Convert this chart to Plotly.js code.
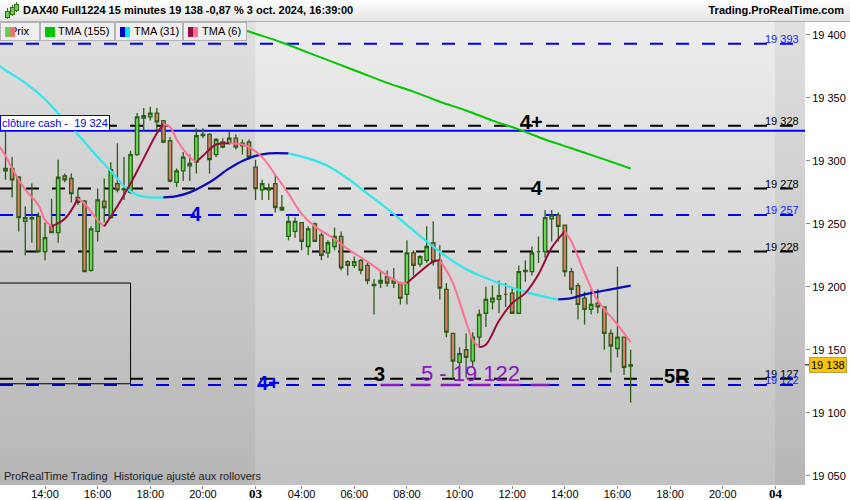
<!DOCTYPE html>
<html><head><meta charset="utf-8">
<script src="https://cdn.plot.ly/plotly-3.0.1.min.js"></script>
<style>
body{margin:0;background:#fff;font-family:'Liberation Sans',Arial,sans-serif;}
#wrap{position:relative;width:850px;height:500px;overflow:hidden;background:#fff;}
#bg{position:absolute;left:0;top:22px;width:805px;height:463px;background:linear-gradient(#ededed,#c1c1c1);}
#chart{position:absolute;left:0;top:0;width:850px;height:500px;}
#hdr{position:absolute;left:0;top:0;width:850px;height:21px;background:linear-gradient(#ffffff,#e4e4e4);border-bottom:1px solid #b0b0b0;font-weight:bold;font-size:11px;color:#000;}
#ttl{position:absolute;left:23px;top:4px;white-space:nowrap;}
#site{position:absolute;right:6px;top:4px;white-space:nowrap;}
.ic{position:absolute;background:#5fd64f;border:1px solid #3c6e1e;}
.wk{position:absolute;width:1px;background:#3c6e1e;}
.lg{position:absolute;top:22px;height:17px;background:#efefef;border:1px solid #b4b4b4;font-size:11px;line-height:17px;color:#000;white-space:nowrap;}
.lg .t{position:absolute;top:0;}
.sq{position:absolute;top:4px;width:10px;height:10px;}
</style></head>
<body>
<div id="wrap">
  <div id="bg"></div>
  <div id="chart"></div>
  <div id="hdr">
    <div class="wk" style="left:7px;top:8px;height:11px"></div><div class="ic" style="left:5px;top:11px;width:3px;height:5px"></div>
    <div class="wk" style="left:12px;top:5px;height:11px"></div><div class="ic" style="left:10px;top:7px;width:3px;height:6px"></div>
    <div class="wk" style="left:16px;top:2px;height:10px"></div><div class="ic" style="left:14px;top:4px;width:3px;height:5px"></div>
    <span id="ttl">DAX40 Full1224 15 minutes 19 138 -0,87 % 3 oct. 2024, 16:39:00</span>
    <span id="site">Trading.ProRealTime.com</span>
  </div>
  <div class="lg" style="left:0;width:38px"><span class="t" style="left:9px">Prix</span>
    <div class="sq" style="left:4px;width:5px;background:#5fd64f"></div><div class="sq" style="left:9px;width:5px;background:#e5796c"></div></div>
  <div class="lg" style="left:40px;width:73px"><div class="sq" style="left:4px;background:#00c800"></div><span class="t" style="left:17px">TMA (155)</span></div>
  <div class="lg" style="left:115px;width:66px"><div class="sq" style="left:4px;width:5px;background:#0000c8"></div><div class="sq" style="left:9px;width:5px;background:#00e8ff"></div><span class="t" style="left:18px">TMA (31)</span></div>
  <div class="lg" style="left:183px;width:62px"><div class="sq" style="left:4px;width:5px;background:#9a0a3c"></div><div class="sq" style="left:9px;width:5px;background:#ff6f91"></div><span class="t" style="left:18px">TMA (6)</span></div>
</div>
<script>
// ---- candle data (15-minute bars, index 0 = 2 oct 12:30, index 38 = 3 oct first bar) ----
const open  = [19294,19294,19287,19252,19254,19256,19228,19249,19243,19288,19286,19271,19268,19213,19244,19268,19255,19282,19277,19275,19305,19334,19335,19338,19332,19316,19283,19292,19296,19299,19320,19321,19305,19315,19314,19318,19312,19315,
               19295,19277,19278,19282,19263,19240,19244,19251,19232,19250,19241,19227,19232,19240,19220,19217,19221,19217,19202,19203,19208,19203,19203,19194,19227,19218,19221,19235,19221,19198,19163,19140,19150,19141,19160,19179,19188,19190,19194,19195,19179,19213,19212,19228,19228,19254,19257,19249,19212,19201,19191,19182,19187,19184,19163,19151,19160,19137];
const high  = [19324,19303,19288,19264,19282,19259,19251,19270,19301,19290,19290,19278,19269,19248,19278,19286,19299,19314,19303,19308,19338,19342,19343,19342,19332,19319,19294,19307,19305,19326,19326,19322,19318,19318,19324,19321,19317,19317,
               19301,19285,19282,19289,19273,19257,19255,19251,19248,19251,19243,19237,19247,19244,19221,19224,19222,19219,19206,19212,19213,19215,19204,19237,19229,19225,19248,19252,19233,19203,19163,19152,19163,19164,19182,19200,19201,19205,19203,19199,19217,19221,19232,19240,19261,19261,19259,19249,19215,19203,19196,19198,19198,19184,19166,19216,19160,19150];
const low   = [19285,19271,19244,19225,19235,19227,19221,19243,19235,19283,19267,19265,19212,19212,19236,19251,19254,19275,19269,19274,19304,19323,19332,19324,19314,19283,19279,19284,19284,19290,19318,19290,19303,19310,19313,19309,19305,19301,
               19269,19269,19269,19259,19261,19237,19239,19229,19225,19236,19221,19223,19229,19213,19209,19215,19210,19202,19178,19199,19200,19199,19186,19186,19209,19216,19219,19217,19190,19160,19126,19126,19128,19136,19152,19168,19182,19179,19184,19179,19179,19204,19209,19219,19223,19236,19236,19208,19194,19174,19170,19178,19179,19150,19132,19144,19130,19108];
const close = [19292,19285,19255,19255,19255,19228,19239,19243,19287,19285,19274,19267,19212,19246,19269,19263,19293,19277,19278,19305,19335,19336,19338,19331,19315,19284,19292,19303,19298,19320,19321,19301,19317,19311,19318,19311,19314,19303,
               19278,19282,19277,19263,19261,19252,19252,19236,19246,19236,19225,19235,19240,19215,19217,19220,19213,19205,19201,19205,19203,19205,19191,19227,19217,19224,19232,19220,19199,19164,19141,19147,19144,19160,19178,19190,19191,19193,19194,19179,19212,19212,19227,19228,19255,19257,19248,19212,19198,19186,19182,19186,19184,19163,19153,19160,19136,19138];

// ---- moving averages (bar index, value) ----
const tma155X = [34,38,42,46,50,54,58,62,66,70,74,78,82,86,90,95];
const tma155Y = [19408,19401,19394,19386,19378,19370,19362,19355,19347,19340,19332,19325,19317,19310,19303,19294];
const tma31X = [-1,0,3,6,9,11,14,16,18,20,22,24,26,28,31,34,36,38,40,43,46,49,52,55,58,61,64,67,70,73,76,79,82,84,86,88,90,92,95];
const tma31Y = [19376,19372,19362,19349,19332,19321,19303,19292,19280,19273,19271,19271,19272,19275,19283,19294,19300,19304,19306,19306,19302,19296,19286,19274,19262,19249,19236,19224,19214,19207,19201,19196,19192,19190,19191,19194,19196,19198,19201];
const tma6X = [-1,0,1,3,5,6,7,9,11,12,14,15,16,17,19,21,23,24,25,26,28,29,30,32,34,36,37,39,41,43,45,47,50,52,55,58,60,61,63,65,66,67,68,70,71,72,73,75,77,79,81,83,85,86,88,90,93,95];
const tma6Y = [19312,19304,19294,19277,19265,19253,19248,19254,19270,19266,19253,19248,19256,19264,19282,19302,19322,19329,19327,19317,19303,19299,19304,19313,19314,19313,19311,19303,19289,19274,19258,19248,19238,19230,19220,19209,19203,19203,19212,19220,19221,19213,19203,19172,19158,19152,19154,19173,19187,19195,19210,19231,19244,19236,19211,19189,19170,19156];

// ---- levels ----
const blueLevels  = [19393,19257,19122];
const blackLevels = [19328,19278,19228,19127];
const cashClose   = 19324;
const lastPrice   = 19138;
const targetLevel = 19122;
const targetFrom  = 57, targetTo = 82.7;
const rangeBox    = [19123,19203];   // low, high of the boxed range
const rangeBoxEnd = 19;

// ---- axis ticks ----
const xTickIdx  = [6,14,22,30,38,45,53,61,69,77,85,93,101,109,117];
const xTickText = ['14:00','16:00','18:00','20:00','03','04:00','06:00','08:00','10:00','12:00','14:00','16:00','18:00','20:00','04'];
const yTickVals = [19050,19100,19150,19200,19250,19300,19350,19400];
const dayStarts = [38,117];

// ---- chart labels ----
const markLabels = [
  {t:'4+', x:80,   y:19331, blue:false},
  {t:'4',  x:80.8, y:19278.5, blue:false},
  {t:'4',  x:29,   y:19257.5, blue:true},
  {t:'4+', x:40,   y:19124, blue:true},
  {t:'3',  x:56.9, y:19131, blue:false},
  {t:'5R', x:102,  y:19129, blue:false}
];
const targetLabel = {t:'5 - 19 122', x:70.6, y:19131.5};

const fmt = v => String(Math.round(v)).replace(/(\d+)(\d{3})$/,'$1 $2');
const bars = open.map((_, i) => i);

const BLUE = '#0000f0', FONT = 'Liberation Sans, Arial, sans-serif';

function segments(xs, ys){
  const segs=[]; let cur={dir:null,x:[xs[0]],y:[ys[0]]};
  for(let i=1;i<xs.length;i++){
    const d=ys[i]-ys[i-1];
    const dir = d>0?'up':(d<0?'down':(cur.dir||'down'));
    if(cur.dir===null) cur.dir=dir;
    if(dir!==cur.dir){ segs.push(cur); cur={dir:dir,x:[xs[i-1]],y:[ys[i-1]]}; }
    cur.x.push(xs[i]); cur.y.push(ys[i]);
  }
  segs.push(cur); return segs;
}

const traces = [{
  type:'candlestick', x:bars, open:open, high:high, low:low, close:close,
  increasing:{line:{color:'#2c5d17',width:1.3}, fillcolor:'#62dc52'},
  decreasing:{line:{color:'#2c5d17',width:1.3}, fillcolor:'#e5796c'},
  whiskerwidth:0, hoverinfo:'skip'
}];
traces.push({type:'scatter',mode:'lines',x:tma155X,y:tma155Y,line:{color:'#00c800',width:2,shape:'spline'},hoverinfo:'skip'});
segments(tma31X,tma31Y).forEach(s=>traces.push({type:'scatter',mode:'lines',x:s.x,y:s.y,
  line:{color:s.dir==='up'?'#0a0ab8':'#2ee8ec',width:2.2,shape:'spline'},hoverinfo:'skip'}));
segments(tma6X,tma6Y).forEach(s=>traces.push({type:'scatter',mode:'lines',x:s.x,y:s.y,
  line:{color:s.dir==='up'?'#9c0a3a':'#ff7094',width:2,shape:'spline'},hoverinfo:'skip'}));

const shapes = [];
shapes.push({type:'rect',xref:'x',yref:'paper',x0:-5,x1:dayStarts[0]-0.05,y0:0,y1:1,fillcolor:'rgba(0,0,0,0.055)',line:{width:0},layer:'below'});
shapes.push({type:'rect',xref:'x',yref:'paper',x0:dayStarts[1]-0.05,x1:130,y0:0,y1:1,fillcolor:'rgba(0,0,0,0.055)',line:{width:0},layer:'below'});
blackLevels.forEach(v=>shapes.push({type:'line',xref:'paper',x0:0,x1:1,y0:v,y1:v,line:{color:'#000',width:2,dash:'13px,13px'},layer:'below'}));
blueLevels.forEach(v=>shapes.push({type:'line',xref:'paper',x0:0,x1:1,y0:v,y1:v,line:{color:BLUE,width:2,dash:'13px,13px'},layer:'below'}));
shapes.push({type:'line',xref:'paper',x0:0,x1:1,y0:cashClose,y1:cashClose,line:{color:BLUE,width:2},layer:'below'});
shapes.push({type:'line',xref:'x',x0:targetFrom,x1:targetTo,y0:targetLevel,y1:targetLevel,line:{color:'#8a16c8',width:2.5,dash:'20px,10px'},layer:'below'});
shapes.push({type:'rect',xref:'x',x0:-3,x1:rangeBoxEnd,y0:rangeBox[0],y1:rangeBox[1],line:{color:'#000',width:1},fillcolor:'rgba(0,0,0,0)',layer:'below'});
shapes.push({type:'line',xref:'paper',x0:1,x1:1.006,y0:lastPrice,y1:lastPrice,line:{color:'#000',width:1}});

const ann = [];
blackLevels.forEach(v=>ann.push({xref:'paper',x:1,xanchor:'right',xshift:-4,y:v,yanchor:'bottom',yshift:-3,text:fmt(v),showarrow:false,font:{family:FONT,size:11,color:'#000'}}));
blueLevels.forEach(v=>ann.push({xref:'paper',x:1,xanchor:'right',xshift:-4,y:v,yanchor:'bottom',yshift:-3,text:fmt(v),showarrow:false,font:{family:FONT,size:11,color:'#1a1aff'}}));
ann.push({xref:'paper',x:0,xanchor:'left',y:cashClose,yanchor:'bottom',yshift:0,text:'clôture cash -  '+fmt(cashClose),showarrow:false,
  bgcolor:'#ffffff',bordercolor:BLUE,borderwidth:1,borderpad:1,font:{family:FONT,size:11,color:BLUE}});
markLabels.forEach(m=>ann.push({x:m.x,y:m.y,text:'<b>'+m.t+'</b>',showarrow:false,xanchor:'center',yanchor:'middle',
  font:{family:FONT,size:20,color:m.blue?BLUE:'#000'}}));
ann.push({x:targetLabel.x,y:targetLabel.y,text:targetLabel.t,showarrow:false,xanchor:'center',yanchor:'middle',font:{family:FONT,size:22,color:'#8a16c8'}});
ann.push({xref:'paper',x:1,xanchor:'left',xshift:4,y:lastPrice,yanchor:'middle',text:fmt(lastPrice),showarrow:false,
  bgcolor:'#fcc400',bordercolor:'#b8a050',borderwidth:1,borderpad:1,font:{family:FONT,size:11,color:'#000'}});
ann.push({xref:'paper',yref:'paper',x:0,xanchor:'left',xshift:2,y:0,yanchor:'bottom',yshift:1,text:'ProRealTime Trading  Historique ajusté aux rollovers',
  showarrow:false,font:{family:FONT,size:11,color:'#222'}});

const xt = xTickText.map(t=>t.length===2?'<b><span style="font-family:\'Liberation Serif\';font-size:13px">'+t+'</span></b>':t);

const layout = {
  width:850,height:500,margin:{l:0,r:45,t:22,b:15,pad:0},
  paper_bgcolor:'rgba(0,0,0,0)',plot_bgcolor:'rgba(0,0,0,0)',
  showlegend:false,boxgap:0.25,
  font:{family:FONT,size:11,color:'#000'},
  xaxis:{range:[-0.84,121.5],fixedrange:true,showgrid:false,zeroline:false,showline:false,
    rangeslider:{visible:false},tickmode:'array',tickvals:xTickIdx,ticktext:xt,
    ticks:'outside',ticklen:3,tickcolor:'#888',ticklabelstandoff:-4,tickfont:{family:FONT,size:11,color:'#000'}},
  yaxis:{range:[19042.6,19410.3],side:'right',fixedrange:true,showgrid:false,zeroline:false,showline:false,
    tickmode:'array',tickvals:yTickVals,ticktext:yTickVals.map(fmt),
    ticks:'outside',ticklen:4,tickcolor:'#888',tickfont:{family:FONT,size:11,color:'#000'}},
  shapes:shapes,annotations:ann
};
Plotly.newPlot('chart',traces,layout,{staticPlot:true,displayModeBar:false});
</script>
</body></html>
